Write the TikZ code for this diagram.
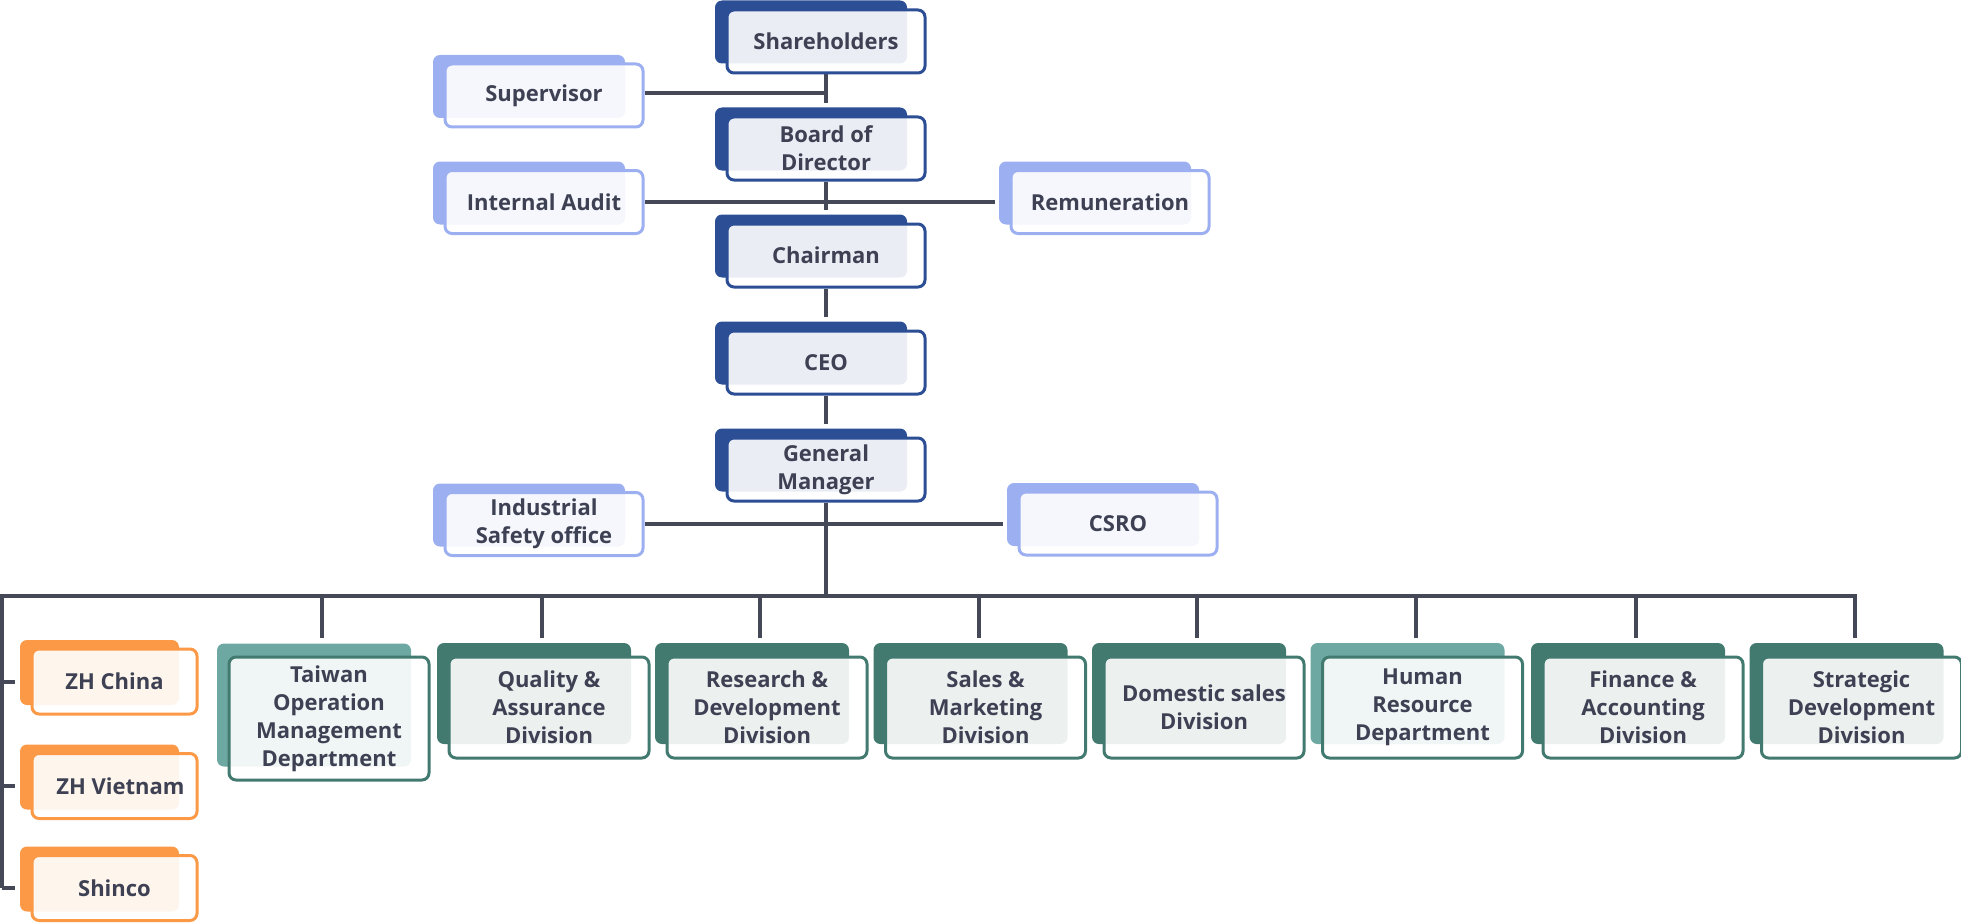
\documentclass[tikz,border=0pt]{standalone}
\usepackage{fontspec}
\setmainfont{Open Sans}
\usetikzlibrary{calc}

\definecolor{navy}{HTML}{2B4E95}
\definecolor{sky}{HTML}{9CAFF0}
\definecolor{pine}{HTML}{427A70}
\definecolor{sage}{HTML}{6EA8A2}
\definecolor{amber}{HTML}{FC9946}
\definecolor{wire}{HTML}{454856}
\definecolor{ink}{HTML}{3E4153}

\pgfdeclarelayer{wires}
\pgfsetlayers{wires,main}

% #1 name, #2 back colour, #3 border colour, #4 x, #5 y (front centre),
% #6 front width, #7 front height, #8 vertical lift of the back plate, #9 label
\newcommand{\orgunit}[9]{%
  \node[backplate=#2, minimum width=#6-6, minimum height=#7] (#1-b) at (#4-15,#5-#8) {};
  \node[frontcard=#3, minimum width=#6, minimum height=#7] (#1) at (#4,#5) {#9};
}

\begin{document}
\begin{tikzpicture}[x=1pt,y=-1pt,
  backplate/.style={fill=#1, rounded corners=7pt, inner sep=0pt},
  frontcard/.style={draw=#1, line width=3pt, fill=white, fill opacity=0.9,
    draw opacity=1, text opacity=1, rounded corners=7pt, inner sep=0pt,
    align=center, text=ink, font=\fontsize{22}{28}\selectfont\bfseries},
  link/.style={draw=wire, line width=4pt}]
\useasboundingbox (0,0) rectangle (1961,923);

% governance chain
\orgunit{sh}{navy}{navy}{826}{41.5}{198}{63}{9.5}{Shareholders}
\orgunit{bd}{navy}{navy}{826}{148.5}{198}{63}{9.5}{Board of\\Director}
\orgunit{ch}{navy}{navy}{826}{255.5}{198}{63}{9.5}{Chairman}
\orgunit{ceo}{navy}{navy}{826}{362.5}{198}{63}{9.5}{CEO}
\orgunit{gm}{navy}{navy}{826}{469.5}{198}{63}{9.5}{General\\Manager}

% staff offices
\orgunit{sup}{sky}{sky}{544}{95.5}{198}{63}{9}{Supervisor}
\orgunit{ia}{sky}{sky}{544}{202}{198}{63}{9}{Internal Audit}
\orgunit{rem}{sky}{sky}{1110}{202}{198}{63}{9}{Remuneration}
\orgunit{isf}{sky}{sky}{544}{524}{198}{63}{9}{Industrial\\Safety office}
\orgunit{csro}{sky}{sky}{1118}{523.5}{198}{63}{9}{CSRO}

% subsidiaries
\orgunit{zhc}{amber}{amber}{114.5}{681.5}{165}{65}{9}{ZH China}
\orgunit{zhv}{amber}{amber}{114.5}{786}{165}{65}{9}{\hspace*{12pt}ZH Vietnam}
\orgunit{shn}{amber}{amber}{114.5}{888}{165}{65}{9}{Shinco}

% divisions
\orgunit{tw}{sage}{pine}{329}{718.5}{200}{123}{13.5}{Taiwan\\Operation\\Management\\Department}
\orgunit{qa}{pine}{pine}{549}{707.5}{200}{101}{14}{Quality \&\\Assurance\\Division}
\orgunit{rd}{pine}{pine}{767}{707.5}{200}{101}{14}{Research \&\\Development\\Division}
\orgunit{sm}{pine}{pine}{985.5}{707.5}{200}{101}{14}{Sales \&\\Marketing\\Division}
\orgunit{ds}{pine}{pine}{1204}{707.5}{200}{101}{14}{Domestic sales\\Division}
\orgunit{hr}{sage}{pine}{1422.5}{707.5}{200}{101}{14}{Human\\Resource\\Department}
\orgunit{fa}{pine}{pine}{1643}{707.5}{200}{101}{14}{Finance \&\\Accounting\\Division}
\orgunit{sd}{pine}{pine}{1861.5}{707.5}{200}{101}{14}{Strategic\\Development\\Division}

\coordinate (busL) at (2,596);

\begin{pgfonlayer}{wires}
  % vertical spine
  \draw[link] (sh.south) -- ([yshift=4pt]sh.south |- bd-b.north);
  \draw[link] (bd.south) -- ([yshift=4pt]bd.south |- ch-b.north);
  \draw[link] (ch.south) -- ([yshift=4pt]ch.south |- ceo-b.north);
  \draw[link] (ceo.south) -- ([yshift=4pt]ceo.south |- gm-b.north);
  \draw[link] (gm.south) -- (gm.south |- busL);
  % side offices
  \draw[link] ([yshift=2pt]sup.east) -- ([yshift=2pt]sup.east -| sh.south);
  \draw[link] (ia.east) -- ([xshift=-4pt]ia.east -| rem-b.west);
  \draw[link] (isf.east) -- ([xshift=-4pt]isf.east -| csro-b.west);
  % main bus
  \coordinate (busR) at ([xshift=8pt]sd-b.north |- busL);
  \draw[link, line cap=rect] (busL) -- (busR);
  \draw[link] (busR) -- ([xshift=8pt,yshift=5pt]sd-b.north);
  \foreach \d in {tw,qa,rd,sm,ds,hr,fa}
    \draw[link] ([xshift=8pt]\d-b.north |- busL) -- ([xshift=8pt,yshift=5pt]\d-b.north);
  % subsidiaries
  \draw[link] (busL) -- (busL |- shn.west);
  \foreach \s in {zhc,zhv,shn}
    \draw[link] (busL |- \s.west) -- ([xshift=-5pt]\s-b.west |- \s.west);
\end{pgfonlayer}
\end{tikzpicture}
\end{document}
